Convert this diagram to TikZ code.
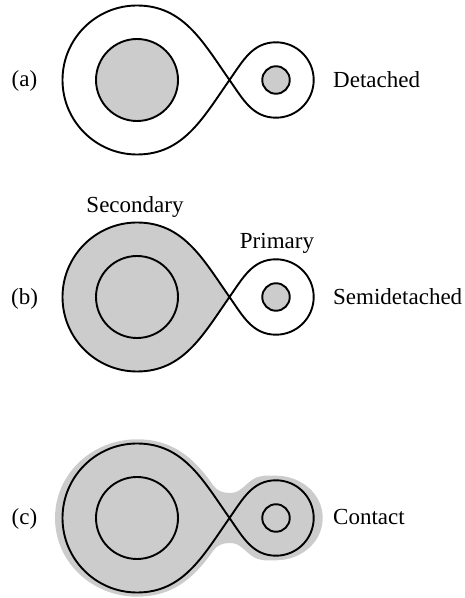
\documentclass[tikz,border=0pt]{standalone}
\usepackage{fontspec}
\setmainfont{Liberation Serif}
\usetikzlibrary{positioning}

\tikzset{
  lobe/.style={draw=black, line width=1.9pt},
  lobefill/.style={fill=black!20},
  star/.style={circle, draw=black, line width=1.9pt, fill=black!20, inner sep=0pt},
  txt/.style={font=\fontsize{23}{27}\selectfont, inner sep=0pt},
}

\begin{document}
\begin{tikzpicture}[x=1pt,y=1pt]
\useasboundingbox (0,0) rectangle (465,598);

% (a) detached
\begin{scope}[shift={(137,518)}]
\coordinate (La) at (92.5,0);
\draw[lobe] (La) to[out=125,in=0] (0,74.5) arc[start angle=90,end angle=270,radius=74.5pt]
  to[out=0,in=235] (La) to[out=55,in=180] (139,37.7) arc[start angle=90,end angle=-90,radius=37.7pt]
  to[out=180,in=-55] (La);
\node[star, minimum size=82pt] (secA) at (0,0) {};
\node[star, minimum size=27.5pt] (priA) at (139,0) {};
\node[txt, anchor=base] (tagA) at (-112.5,-7) {(a)};
\node[txt, anchor=base west] (typeA) at (196,-7.5) {Detached};
\end{scope}

% (b) semidetached
\begin{scope}[shift={(137,301)}]
\coordinate (Lb) at (92.5,0);
\fill[lobefill] (Lb) to[out=125,in=0] (0,74.5) arc[start angle=90,end angle=270,radius=74.5pt]
  to[out=0,in=235] (Lb) -- cycle;
\draw[lobe] (Lb) to[out=125,in=0] (0,74.5) arc[start angle=90,end angle=270,radius=74.5pt]
  to[out=0,in=235] (Lb) to[out=55,in=180] (139,37.7) arc[start angle=90,end angle=-90,radius=37.7pt]
  to[out=180,in=-55] (Lb);
\node[star, minimum size=82pt] (secB) at (0,0) {};
\node[star, minimum size=27.5pt] (priB) at (139,0) {};
\node[txt, anchor=base] (tagB) at (-112.5,-8) {(b)};
\node[txt, anchor=base west] (typeB) at (196,-8) {Semidetached};
\node[txt, anchor=base] (secname) at (-2,84.7) {Secondary};
\node[txt, anchor=base] (priname) at (140,48) {Primary};
\end{scope}

% (c) contact
\begin{scope}[shift={(137,80)}]
\coordinate (Lc) at (92.5,0);
\fill[lobefill] (-82,0) to[out=-90,in=180] (0,-78.7) to[out=0,in=235] (76,-33)
  to[out=55,in=180] (93,-25) to[out=0,in=145] (115,-38) to[out=-35,in=180] (139,-42.3)
  to[out=0,in=-90] (185.7,0) to[out=90,in=0] (139,42.3) to[out=180,in=35] (115,38)
  to[out=215,in=0] (93,25) to[out=180,in=-55] (76,33) to[out=125,in=0] (0,78.7)
  to[out=180,in=90] cycle;
\draw[lobe] (Lc) to[out=125,in=0] (0,74.5) arc[start angle=90,end angle=270,radius=74.5pt]
  to[out=0,in=235] (Lc) to[out=55,in=180] (139,37.7) arc[start angle=90,end angle=-90,radius=37.7pt]
  to[out=180,in=-55] (Lc);
\node[star, minimum size=82pt] (secC) at (0,0) {};
\node[star, minimum size=27.5pt] (priC) at (139,0) {};
\node[txt, anchor=base] (tagC) at (-112.5,-7) {(c)};
\node[txt, anchor=base west] (typeC) at (196,-7) {Contact};
\end{scope}
\end{tikzpicture}
\end{document}
